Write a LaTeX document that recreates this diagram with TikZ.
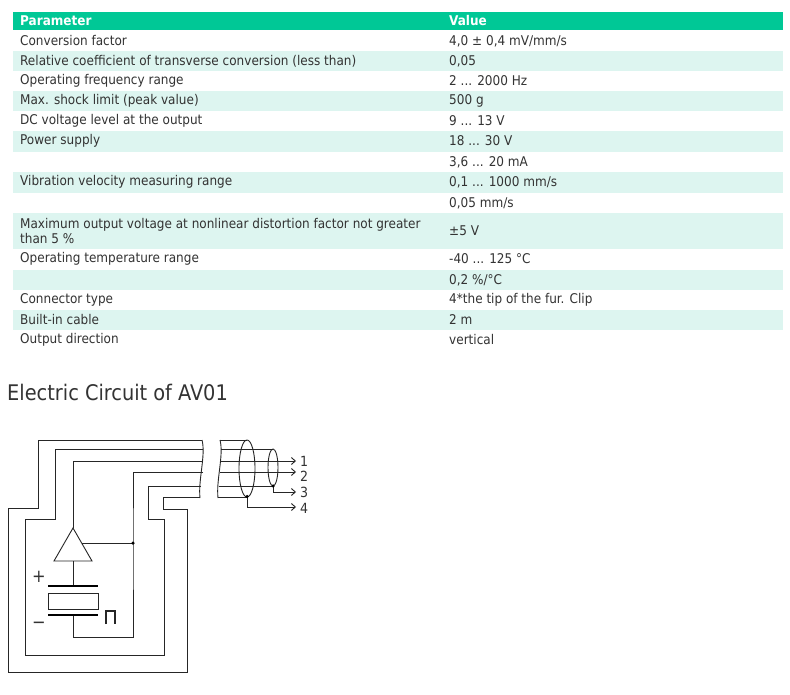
\documentclass[tikz,border=0pt]{standalone}
\usepackage{fontspec}
\setmainfont{DejaVu Sans Condensed}
\usetikzlibrary{arrows.meta}
\definecolor{hdr}{HTML}{00C896}
\definecolor{alt}{HTML}{DDF5F0}
\definecolor{txt}{HTML}{333333}
\tikzset{
  cell/.style={anchor=west,inner sep=0pt,text=txt,font=\fontsize{13.4}{15.5}\selectfont},
  hcell/.style={anchor=west,inner sep=0pt,text=white,font=\fontsize{13.4}{15}\selectfont\bfseries},
  wire/.style={line width=0.9pt,black!85},
  arr/.style={wire,-{Straight Barb[length=4pt,width=7pt]}},
  lbl/.style={inner sep=0pt,anchor=west,font=\fontsize{14}{14}\selectfont,text=txt},
  dotn/.style={circle,fill=black,inner sep=0pt,minimum size=3.5pt}
}
\begin{document}
\begin{tikzpicture}[x=1pt,y=-1pt]
\useasboundingbox (0,0) rectangle (790,695);
\fill[white] (0,0) rectangle (790,695);
% table
\fill[hdr] (13,12) rectangle (783,30);
\foreach \a/\b in {51/71,91/111,131/152,172/193,213/249,270/290,310/330}
  \fill[alt] (13,\a) rectangle (783,\b);
\node[hcell] (h1) at (20,21) {Parameter};
\node[hcell] (h2) at (449,21) {Value};
\foreach \y/\p/\v [count=\i] in {
 41/{Conversion factor}/{4,0 ± 0,4 mV/mm/s},
 61/{Relative coefficient of transverse conversion (less than)}/{0,05},
 81/{Operating frequency range}/{2 ... 2000 Hz},
 101/{Max. shock limit (peak value)}/{500 g},
 121/{DC voltage level at the output}/{9 ... 13 V},
 141/{Power supply}/{18 ... 30 V},
 162/{}/{3,6 ... 20 mA},
 182/{Vibration velocity measuring range}/{0,1 ... 1000 mm/s},
 203/{}/{0,05 mm/s},
 231/{}/{±5 V},
 259/{Operating temperature range}/{-40 ... 125 °C},
 280/{}/{0,2 \%/°C},
 300/{Connector type}/{4*the tip of the fur. Clip},
 320/{Built-in cable}/{2 m},
 340/{Output direction}/{vertical}}
{
  \node[cell] (p\i) at (20,\y) {\p};
  \node[cell] (v\i) at (449,\y) {\v};
}
\node[cell,align=left] (pmax) at (20,231) {Maximum output voltage at nonlinear distortion factor not greater\\than 5 \%};
\node[anchor=west,inner sep=0pt,text=txt,font=\fontsize{21.5}{22}\selectfont] (title) at (7,392) {Electric Circuit of AV01};
% circuit
\draw[wire] (202,440) -- (38,440) -- (38,508) -- (8,508) -- (8,672) -- (187,672) -- (187,509) -- (163,509) -- (163,497) -- (200,497);
\draw[wire] (203,449) -- (55,449) -- (55,519) -- (25,519) -- (25,655) -- (164,655) -- (164,519) -- (148,519) -- (148,486) -- (201,486);
\draw[wire] (202,440) .. controls (206,455) and (198,480) .. (200,498);
\draw[wire] (220,440) .. controls (224,455) and (216,480) .. (218,498);
% amplifier
\coordinate (amptop) at (73,528);
\coordinate (jn) at (133,543);
\draw[wire] (amptop) -- (92,561) -- (54,561) -- cycle;
\draw[wire] (203,461) -- (73,461) -- (amptop);
\draw[wire] (82,543) -- (jn);
\draw[wire] (203,472) -- (133,472) -- (jn) -- (133,637) -- (73,637) -- (73,615);
\node[dotn] (jdot) at (jn) {};
\draw[wire] (73,561) -- (73,586);
\draw[line width=2.4pt] (48,586) -- (98,586);
\draw[line width=2.4pt] (48,615) -- (98,615);
\draw[wire] (48,593) rectangle (98,609);
\node[font=\fontsize{18}{18}\selectfont,text=txt] (plus) at (39,577) {+};
\node[font=\fontsize{18}{18}\selectfont,text=txt] (minus) at (39,625) {−};
\draw[wire,line width=1.4pt] (106,624) -- (106,611) -- (115,611) -- (115,624);
% cable
\draw[wire] (220,440) -- (247,440);
\draw[wire] (218,497) -- (247,497);
\draw[wire] (221,449) -- (273,449);
\draw[wire] (219,486) -- (273,486);
\draw[wire] (247,468.5) ellipse (8 and 28.5);
\draw[wire] (273,467.5) ellipse (5 and 18.5);
\coordinate (d3) at (273,486);
\coordinate (d4) at (247,496.5);
\draw[arr] (221,461) -- (296,461);
\draw[arr] (220,472) -- (296,472);
\draw[arr] (d3) -- (273,492) -- (296,492);
\draw[arr] (d4) -- (247,507) -- (296,507);
\node[dotn] (d3dot) at (d3) {};
\node[dotn] (d4dot) at (d4) {};
\node[lbl] (l1) at (300,461) {1};
\node[lbl] (l2) at (300,476) {2};
\node[lbl] (l3) at (300,492) {3};
\node[lbl] (l4) at (300,508) {4};
\end{tikzpicture}
\end{document}
